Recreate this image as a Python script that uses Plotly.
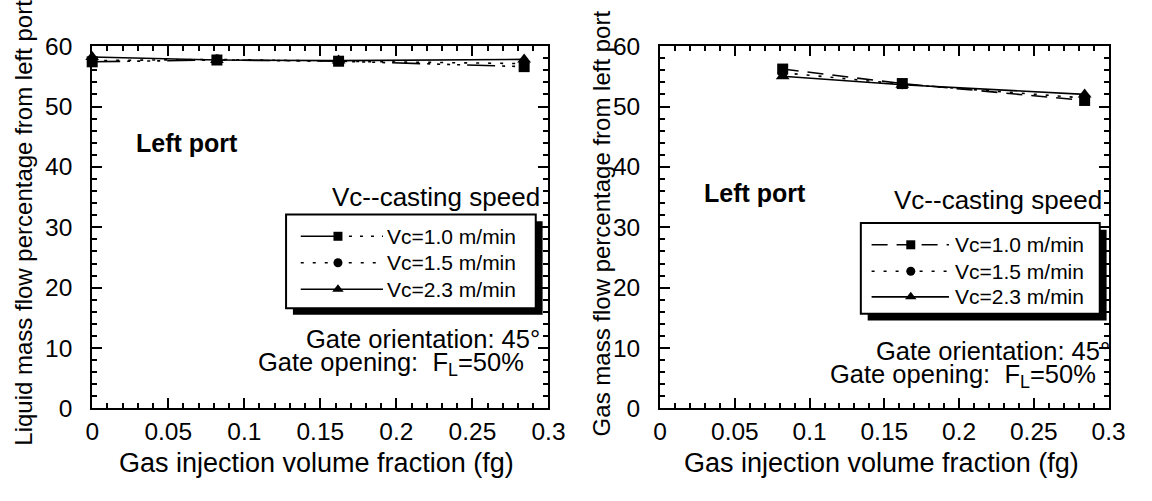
import plotly.graph_objects as go

# Gas injection volume fraction (fg) at each measurement
fg_liquid = [0.0, 0.082, 0.162, 0.284]
fg_gas = [0.082, 0.162, 0.284]

# Liquid mass flow percentage from left port (%)
liq_vc10 = [57.4, 57.7, 57.5, 56.6]
liq_vc15 = [57.6, 57.8, 57.5, 57.1]
liq_vc23 = [58.2, 57.7, 57.6, 57.8]

# Gas mass flow percentage from left port (%)
gas_vc10 = [56.2, 53.8, 51.0]
gas_vc15 = [55.6, 53.7, 51.4]
gas_vc23 = [55.0, 53.6, 52.0]

series_names = ["Vc=1.0 m/min", "Vc=1.5 m/min", "Vc=2.3 m/min"]
x_ticks = [0, 0.05, 0.1, 0.15, 0.2, 0.25, 0.3]
x_tick_text = ["0", "0.05", "0.1", "0.15", "0.2", "0.25", "0.3"]
y_ticks = [0, 10, 20, 30, 40, 50, 60]

W, H = 1152, 501
FONT = "Liberation Sans, Arial, Helvetica, sans-serif"
BLACK = "black"

# line styles per casting speed: (left panel dash, right panel dash, marker, size)
dash_1_left = "28px,7px,3px,7px,3px,7px,3px,7px,3px,7px"
dash_1_right = "16px,9px"
dash_dot = "3px,9px"
styles = [
    (dash_1_left, dash_1_right, "square", 11),
    (dash_dot, dash_dot, "circle", 10),
    ("solid", "solid", "triangle-up", 12),
]

fig = go.Figure()

liq = [liq_vc10, liq_vc15, liq_vc23]
gas = [gas_vc10, gas_vc15, gas_vc23]

# draw the solid series first so markers of the others sit on top
for i in [2, 1, 0]:
    dl, dr, sym, sz = styles[i]
    fig.add_trace(go.Scatter(
        x=fg_liquid, y=liq[i], mode="lines+markers", name=series_names[i],
        line=dict(color=BLACK, width=1.6, dash=dl),
        marker=dict(symbol=sym, size=sz, color=BLACK),
        cliponaxis=False, showlegend=False, xaxis="x", yaxis="y"))
    fig.add_trace(go.Scatter(
        x=fg_gas, y=gas[i], mode="lines+markers", name=series_names[i],
        line=dict(color=BLACK, width=1.6, dash=dr),
        marker=dict(symbol=sym, size=sz, color=BLACK),
        cliponaxis=False, showlegend=False, xaxis="x2", yaxis="y2"))

annots = []


def legend_box(x0, y0, x1, y1, rows_y, line_x0, line_x1, mark_x, text_x, dashes):
    """Boxed key with a drop shadow, drawn on the full-page pixel overlay."""
    shapes = [
        dict(type="rect", xref="x3", yref="y3", x0=x0 + 7, y0=y0 + 7, x1=x1 + 7, y1=y1 + 7,
             fillcolor=BLACK, line=dict(width=0), layer="below"),
        dict(type="rect", xref="x3", yref="y3", x0=x0, y0=y0, x1=x1, y1=y1,
             fillcolor="white", line=dict(color=BLACK, width=2), layer="below"),
    ]
    for k, ry in enumerate(rows_y):
        sym = styles[k][2]
        segs = dashes[k]
        if len(segs) == 2:
            pieces = [([line_x0, mark_x], segs[0]), ([mark_x, line_x1], segs[1])]
        else:
            pieces = [([line_x0, line_x1], segs[0])]
        for xs, d in pieces:
            fig.add_trace(go.Scatter(x=xs, y=[ry, ry], mode="lines",
                                     line=dict(color=BLACK, width=1.6, dash=d),
                                     showlegend=False, xaxis="x3", yaxis="y3", hoverinfo="skip"))
        fig.add_trace(go.Scatter(x=[mark_x], y=[ry], mode="markers",
                                 marker=dict(symbol=sym, size=9 if sym != "triangle-up" else 10,
                                             color=BLACK),
                                 showlegend=False, xaxis="x3", yaxis="y3", hoverinfo="skip"))
        annots.append(dict(xref="x3", yref="y3", x=text_x, y=ry, text=series_names[k],
                           showarrow=False, xanchor="left", yanchor="middle",
                           font=dict(family=FONT, size=21, color=BLACK)))
    return shapes


shapes = []
shapes += legend_box(285, 213, 540, 312, [236, 264, 292], 300, 384, 338, 386,
                     [("solid", "3px,8px"), (dash_dot,), ("solid",)])
shapes += legend_box(872, 222, 1116, 318, [245, 273, 300], 883, 962, 923, 966,
                     [(dash_1_right,), (dash_dot,), ("solid",)])


def txt(x, y, s, anchor="left", size=24, bold=False, angle=0):
    annots.append(dict(xref="x3", yref="y3", x=x, y=y,
                       text=f"<b>{s}</b>" if bold else s, showarrow=False,
                       xanchor=anchor, yanchor="middle", textangle=angle,
                       font=dict(family=FONT, size=size, color=BLACK)))


# left panel notes
txt(130, 137, "Left port", bold=True, size=25)
txt(546, 195, "Vc--casting speed", anchor="right", size=26)
txt(546, 345, "Gate orientation: 45°", anchor="right", size=25.5)
txt(530, 371, "Gate opening:\u00a0 F<sub>L</sub>=50%", anchor="right", size=25.5)
# right panel notes
txt(710, 190, "Left port", bold=True, size=25)
txt(1120, 198, "Vc--casting speed", anchor="right", size=26)
txt(1129, 357, "Gate orientation: 45°", anchor="right", size=25.5)
txt(1114, 384, "Gate opening:\u00a0 F<sub>L</sub>=50%", anchor="right", size=25.5)

# axis titles
txt(16, 222, "Liquid mass flow percentage from left port", anchor="center", angle=-90)
txt(607, 222, "Gas mass flow percentage from left port", anchor="center", angle=-90)
txt(316, 476, "Gas injection volume fraction (fg)", anchor="center", size=27)
txt(893, 476, "Gas injection volume fraction (fg)", anchor="center", size=27)

axis_common = dict(
    showline=True, linecolor=BLACK, linewidth=2, mirror="allticks",
    ticks="inside", ticklen=10, tickwidth=2, tickcolor=BLACK,
    showgrid=False, zeroline=False,
    tickfont=dict(family=FONT, size=24.5, color=BLACK),
)
xa = dict(axis_common, range=[0, 0.3], tickmode="array", tickvals=x_ticks, ticktext=x_tick_text,
          minor=dict(ticks="inside", ticklen=5, tickwidth=1.5, tickcolor=BLACK, dtick=0.01, tick0=0))
ya = dict(axis_common, range=[0, 60], tickmode="array", tickvals=y_ticks,
          minor=dict(ticks="inside", ticklen=5, tickwidth=1.5, tickcolor=BLACK, dtick=2, tick0=0),
          ticklabelstandoff=13)

ydom = [1 - 418 / H, 1 - 35 / H]
fig.update_layout(
    width=W, height=H,
    margin=dict(l=0, r=0, t=0, b=0),
    paper_bgcolor="white", plot_bgcolor="rgba(0,0,0,0)",
    font=dict(family=FONT, color=BLACK),
    xaxis=dict(xa, domain=[87 / W, 553 / W], anchor="y"),
    yaxis=dict(ya, domain=ydom, anchor="x"),
    xaxis2=dict(xa, domain=[667 / W, 1125 / W], anchor="y2"),
    yaxis2=dict(ya, domain=ydom, anchor="x2"),
    xaxis3=dict(domain=[0, 1], range=[0, W], visible=False, fixedrange=True, anchor="y3"),
    yaxis3=dict(domain=[0, 1], range=[H, 0], visible=False, fixedrange=True, anchor="x3"),
    shapes=shapes,
    annotations=annots,
    showlegend=False,
)

fig.write_html("out.html")
